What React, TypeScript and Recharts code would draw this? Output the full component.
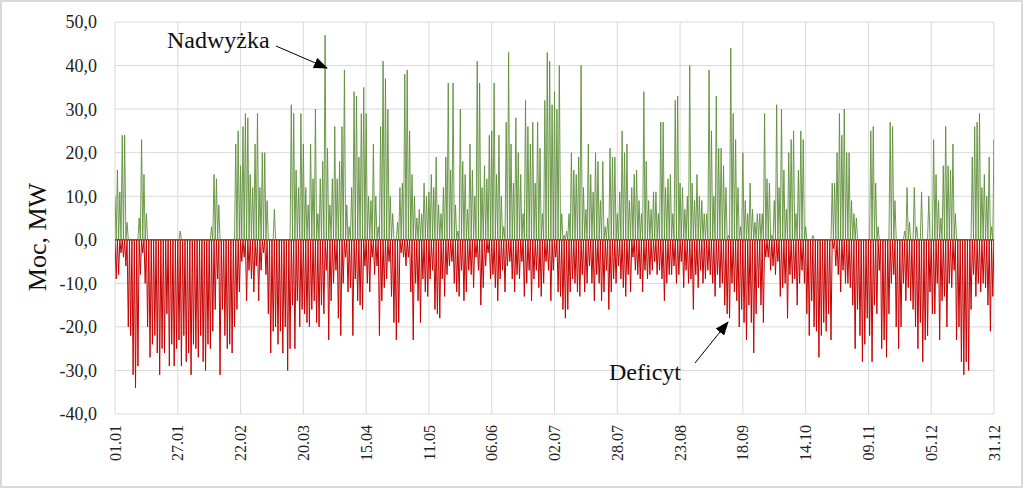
import { LineChart, Line, XAxis, YAxis, CartesianGrid, ReferenceLine } from 'recharts';

// etykiety osi X co 26 dni (dzień roku -> data)
const tickDays = [0, 26, 52, 78, 104, 130, 156, 182, 208, 234, 260, 286, 312, 338, 364];
const dateLabels = ['01.01', '27.01', '22.02', '20.03', '15.04', '11.05', '06.06', '02.07', '28.07', '23.08', '18.09', '14.10', '09.11', '05.12', '31.12'];
const yTicks = [-40, -30, -20, -10, 0, 10, 20, 30, 40, 50];

// dobowe maksimum nadwyżki mocy, MW (odczyt z wykresu)
const surplus = [
  10, 16, 11, 24, 24, 4, 0, 0, 0, 0,
  5, 23, 15, 6, 0, 0, 0, 0, 0, 0,
  0, 0, 0, 0, 0, 0, 0, 2, 0, 0,
  0, 0, 0, 0, 0, 0, 0, 0, 0, 0,
  3, 15, 14, 8, 0, 0, 0, 0, 0, 0,
  22, 25, 17, 26, 29, 28, 15, 12, 22, 29,
  12, 20, 20, 9, 0, 0, 7, 0, 0, 0,
  0, 0, 0, 31, 29, 16, 12, 29, 22, 12,
  8, 22, 14, 30, 6, 14, 18, 47, 21, 8,
  14, 26, 14, 18, 26, 39, 8, 3, 12, 34,
  33, 19, 29, 35, 29, 10, 9, 22, 10, 3,
  26, 41, 37, 30, 10, 6, 0, 4, 12, 13,
  38, 39, 25, 15, 10, 5, 7, 6, 13, 10,
  11, 15, 12, 19, 8, 6, 12, 19, 36, 16,
  36, 8, 2, 30, 18, 15, 7, 22, 16, 10,
  41, 36, 12, 17, 14, 24, 25, 36, 15, 24,
  10, 3, 27, 43, 22, 13, 28, 20, 15, 6,
  32, 26, 22, 27, 13, 27, 21, 6, 32, 43,
  41, 31, 34, 30, 40, 6, 1, 2, 6, 20,
  16, 15, 19, 40, 12, 7, 22, 15, 11, 20,
  18, 9, 18, 3, 5, 21, 19, 19, 6, 11,
  25, 20, 22, 9, 12, 15, 16, 9, 6, 34,
  18, 9, 7, 11, 11, 6, 27, 27, 12, 14,
  15, 6, 32, 33, 13, 12, 7, 10, 40, 13,
  9, 15, 10, 9, 6, 6, 39, 25, 10, 33,
  21, 21, 17, 12, 1, 44, 29, 23, 12, 3,
  20, 9, 6, 13, 7, 4, 6, 6, 6, 29,
  14, 13, 1, 9, 31, 12, 30, 16, 7, 20,
  23, 25, 6, 16, 25, 23, 3, 0, 0, 1,
  0, 0, 0, 0, 0, 0, 0, 13, 13, 20,
  29, 24, 30, 20, 20, 9, 6, 5, 0, 0,
  0, 0, 0, 25, 26, 13, 3, 0, 0, 0,
  0, 27, 26, 9, 0, 0, 0, 2, 12, 4,
  0, 12, 3, 0, 11, 0, 0, 10, 0, 23,
  15, 9, 5, 17, 26, 17, 16, 22, 6, 0,
  0, 0, 0, 0, 0, 19, 26, 27, 29, 12,
  15, 10, 19, 3, 23,
];

// dobowe maksimum deficytu mocy, MW
const deficit = [
  -9, -8, -3, -4, -6, -20, -22, -31, -34, -29,
  -8, -3, -10, -20, -27, -24, -22, -26, -31, -25,
  -26, -17, -29, -24, -29, -25, -23, -29, -22, -28,
  -26, -31, -24, -25, -27, -22, -28, -30, -24, -25,
  -21, -16, -9, -31, -16, -22, -25, -24, -26, -20,
  -16, -12, -5, -4, -14, -7, -9, -12, -6, -14,
  -7, -3, -8, -17, -26, -21, -20, -24, -21, -26,
  -20, -30, -25, -15, -25, -14, -20, -16, -17, -19,
  -20, -16, -14, -19, -20, -15, -17, -7, -23, -14,
  -10, -7, -18, -22, -10, -4, -12, -11, -22, -9,
  -14, -15, -16, -6, -10, -12, -4, -8, -6, -22,
  -14, -11, -9, -5, -13, -19, -23, -19, -3, -4,
  -6, -4, -12, -23, -10, -14, -19, -9, -12, -13,
  -9, -7, -16, -17, -18, -9, -13, -8, -6, -5,
  -10, -12, -13, -7, -14, -12, -7, -8, -11, -4,
  -7, -15, -11, -6, -3, -9, -8, -11, -14, -9,
  -7, -12, -6, -5, -9, -12, -8, -9, -5, -13,
  -10, -7, -14, -9, -7, -11, -13, -10, -5, -7,
  -14, -7, -4, -12, -13, -16, -18, -16, -12, -9,
  -10, -12, -13, -8, -12, -10, -6, -10, -14, -8,
  -10, -14, -12, -7, -16, -12, -9, -10, -6, -9,
  -11, -13, -8, -12, -4, -7, -8, -9, -12, -7,
  -9, -8, -7, -5, -8, -7, -9, -14, -10, -8,
  -8, -6, -10, -8, -5, -11, -7, -10, -9, -16,
  -8, -11, -7, -10, -9, -7, -8, -10, -13, -8,
  -11, -10, -15, -17, -18, -10, -12, -14, -20, -16,
  -19, -23, -15, -19, -26, -17, -11, -15, -19, -4,
  -4, -7, -6, -8, -5, -13, -11, -10, -18, -8,
  -10, -9, -15, -10, -7, -10, -17, -22, -14, -20,
  -21, -27, -22, -19, -21, -17, -23, -2, -6, -8,
  -12, -7, -10, -10, -11, -15, -25, -16, -22, -28,
  -24, -18, -22, -28, -15, -17, -7, -25, -23, -27,
  -17, -10, -8, -20, -25, -20, -10, -14, -11, -14,
  -16, -20, -25, -19, -28, -23, -22, -12, -17, -17,
  -10, -23, -14, -13, -20, -10, -11, -7, -23, -20,
  -28, -31, -28, -30, -16, -8, -13, -10, -12, -10,
  -11, -15, -21, -13, -14,
];

// nadwyżka w dzień, deficyt w nocy -> dwa punkty na dobę
const rows = surplus.flatMap((s, i) => [
  { t: i, s, d: 0 },
  { t: i + 0.5, s: 0, d: deficit[i] },
]);

const FONT = '"Liberation Serif", "Times New Roman", serif';

function DateTick({ x, y, payload }: any) {
  const label = dateLabels[tickDays.indexOf(payload.value)];
  return (
    <text
      transform={`translate(${x},${y + 3}) rotate(-90)`}
      textAnchor="end"
      dy="0.35em"
      fontSize={16}
      fontFamily={FONT}
      fill="#222"
    >
      {label}
    </text>
  );
}

function AxisTitle() {
  return (
    <text
      transform="translate(37,237) rotate(-90)"
      textAnchor="middle"
      dy="0.35em"
      fontSize={26}
      fontFamily={FONT}
      fill="#111"
    >
      Moc, MW
    </text>
  );
}

export default function App() {
  return (
    <div style={{ position: 'absolute', left: 0, top: 0, width: 1023, height: 488, background: '#fff' }}>
      <LineChart
        width={1023}
        height={488}
        data={rows}
        margin={{ top: 22, right: 29, left: 0, bottom: 0 }}
      >
        <CartesianGrid stroke="#d9d9d9" strokeWidth={1} />
        <XAxis
          dataKey="t"
          type="number"
          domain={[0, 364]}
          ticks={tickDays}
          allowDataOverflow
          axisLine={false}
          tickLine={false}
          height={74}
          interval={0}
          tick={<DateTick />}
        />
        <YAxis
          type="number"
          domain={[-40, 50]}
          ticks={yTicks}
          width={115}
          axisLine={false}
          tickLine={false}
          tickSize={6}
          tickMargin={12}
          interval={0}
          tickFormatter={(v: number) => v.toFixed(1).replace('.', ',')}
          tick={{ fontSize: 18, fontFamily: FONT, fill: '#222' }}
          label={<AxisTitle />}
        />
        <Line
          dataKey="d"
          type="linear"
          stroke="#c80000"
          strokeWidth={1}
          dot={false}
          activeDot={false}
          isAnimationActive={false}
        />
        <Line
          dataKey="s"
          type="linear"
          stroke="#5f8f3a"
          strokeWidth={0.9}
          dot={false}
          activeDot={false}
          isAnimationActive={false}
        />
        <ReferenceLine y={0} stroke="#9a2a10" strokeWidth={1.2} />
      </LineChart>

      <svg
        width={1023}
        height={488}
        style={{ position: 'absolute', left: 0, top: 0, pointerEvents: 'none' }}
      >
        <defs>
          <marker id="arrowHead" markerWidth={14} markerHeight={11} refX={13} refY={5.5} orient="auto" markerUnits="userSpaceOnUse">
            <path d="M0,0 L14,5.5 L0,11 z" fill="#000" />
          </marker>
        </defs>
        <text x={167} y={48} fontSize={24} fontFamily={FONT} fill="#111">Nadwyżka</text>
        <line x1={276} y1={46} x2={327} y2={68} stroke="#000" strokeWidth={1} markerEnd="url(#arrowHead)" />
        <text x={609} y={380} fontSize={24} fontFamily={FONT} fill="#111">Deficyt</text>
        <line x1={695} y1={363} x2={728} y2={322} stroke="#000" strokeWidth={1} markerEnd="url(#arrowHead)" />
      </svg>

      <div
        style={{
          position: 'absolute',
          left: 0,
          top: 0,
          width: 1023,
          height: 488,
          boxSizing: 'border-box',
          border: '2px solid #d9d9d9',
          pointerEvents: 'none',
        }}
      />
    </div>
  );
}
